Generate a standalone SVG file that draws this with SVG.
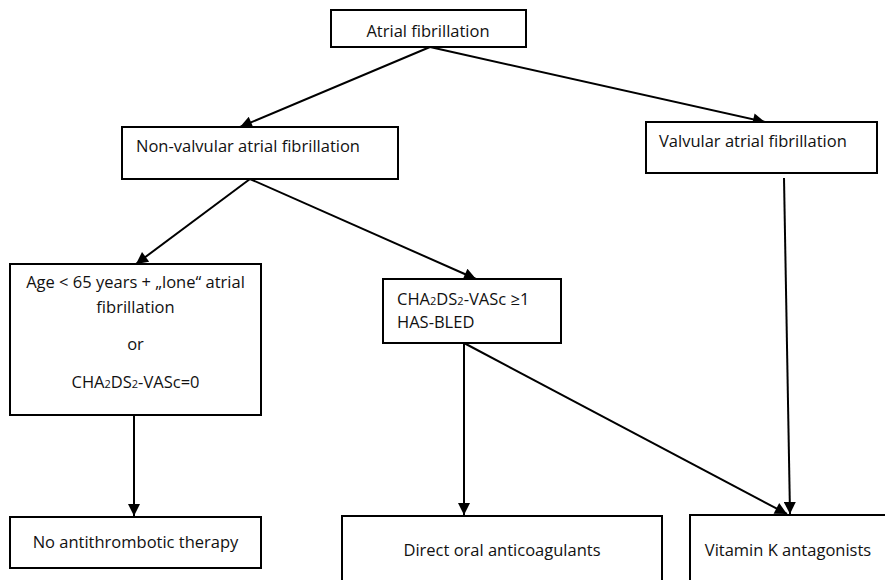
<svg xmlns="http://www.w3.org/2000/svg" width="885" height="580" viewBox="0 0 885 580">
<style>
.box{fill:#fff;stroke:#000;stroke-width:2}
.t{font-family:"Open Sans","Liberation Sans",sans-serif;font-size:16.5px;fill:#111}
.c{text-anchor:middle}
.e{stroke:#000;stroke-width:2;fill:none;marker-end:url(#ah)}
.s{font-size:11px}
</style>
<defs>
<marker id="ah" viewBox="0 0 10 10" refX="10" refY="5" markerWidth="7" markerHeight="6" markerUnits="strokeWidth" orient="auto">
<path d="M0,0 L10,5 L0,10 z" fill="#000"/>
</marker>
</defs>
<rect width="885" height="580" fill="#fff"/>
<g id="connectors">
<line class="e" x1="430" y1="47" x2="240" y2="127"/>
<line class="e" x1="430" y1="47" x2="765" y2="122"/>
<line class="e" x1="250" y1="179" x2="136" y2="264"/>
<line class="e" x1="250" y1="179" x2="476" y2="279"/>
<line class="e" x1="134" y1="415" x2="134" y2="516"/>
<line class="e" x1="464" y1="343" x2="464" y2="515"/>
<line class="e" x1="464" y1="343" x2="787" y2="514"/>
<line class="e" x1="784" y1="178" x2="790" y2="514"/>
</g>
<g id="n-af">
<rect class="box" x="331" y="10" width="195" height="37"/>
<text class="t c" x="428" y="37">Atrial fibrillation</text>
</g>
<g id="n-nonvalvular">
<rect class="box" x="122" y="127" width="276" height="52"/>
<text class="t" x="136" y="152">Non-valvular atrial fibrillation</text>
</g>
<g id="n-valvular">
<rect class="box" x="646" y="122" width="231" height="51"/>
<text class="t" x="659" y="147">Valvular atrial fibrillation</text>
</g>
<g id="n-age">
<rect class="box" x="10" y="264" width="251" height="151"/>
<text class="t c" x="135.5" y="288">Age &lt; 65 years + „lone“ atrial</text>
<text class="t c" x="135.5" y="313">fibrillation</text>
<text class="t c" x="135.5" y="350">or</text>
<text class="t c" x="135.5" y="388">CHA<tspan class="s">2</tspan>DS<tspan class="s">2</tspan>-VASc=0</text>
</g>
<g id="n-cha">
<rect class="box" x="383" y="279" width="178" height="64"/>
<text class="t" x="397" y="305">CHA<tspan class="s">2</tspan>DS<tspan class="s">2</tspan>-VASc ≥1</text>
<text class="t" x="397" y="328">HAS-BLED</text>
</g>
<g id="n-none">
<rect class="box" x="10" y="517" width="251" height="51"/>
<text class="t c" x="135.5" y="548">No antithrombotic therapy</text>
</g>
<g id="n-doac">
<rect class="box" x="342" y="516" width="320" height="70"/>
<text class="t c" x="502" y="556">Direct oral anticoagulants</text>
</g>
<g id="n-vka">
<rect class="box" x="690" y="515" width="200" height="70"/>
<text class="t c" x="788" y="556">Vitamin K antagonists</text>
</g>
</svg>
